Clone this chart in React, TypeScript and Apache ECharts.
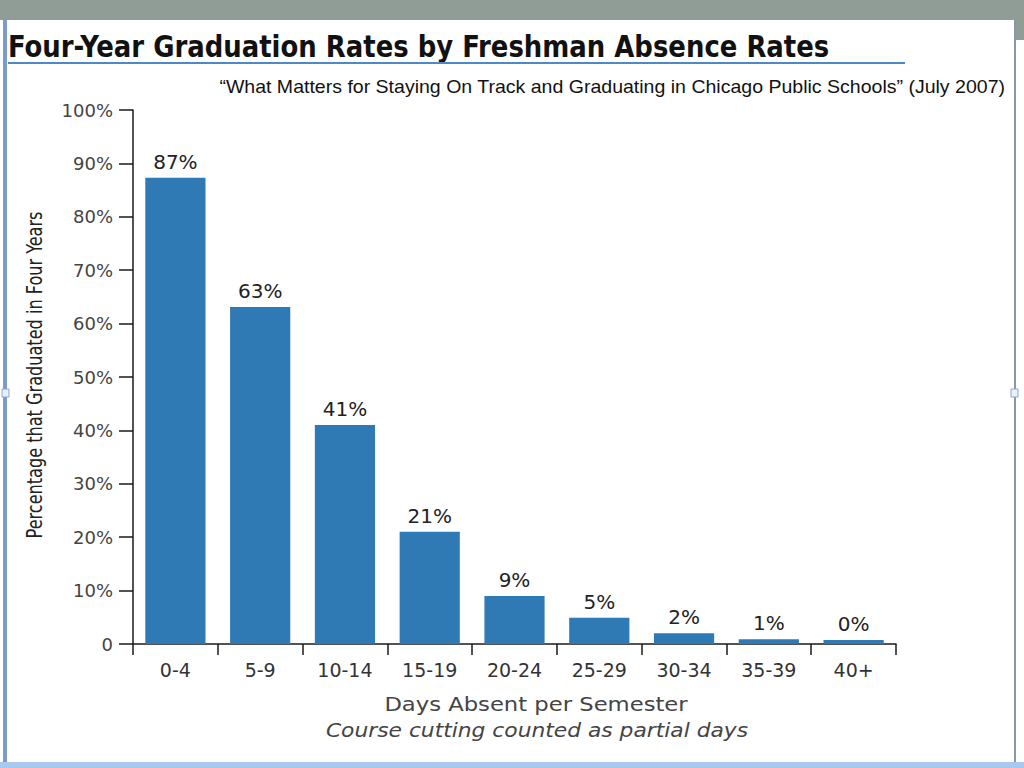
import React, { useEffect, useRef } from "react";
import * as echarts from "echarts";

const categories = ["0-4", "5-9", "10-14", "15-19", "20-24", "25-29", "30-34", "35-39", "40+"];
const values = [87.3, 63.1, 41.0, 21.0, 9.0, 4.9, 2.0, 0.9, 0.75];
const valueLabels = ["87%", "63%", "41%", "21%", "9%", "5%", "2%", "1%", "0%"];
const yTicks = [0, 10, 20, 30, 40, 50, 60, 70, 80, 90, 100];

const titleText = "Four-Year Graduation Rates by Freshman Absence Rates";
const subtitleText = "\u201cWhat Matters for Staying On Track and Graduating in Chicago Public Schools\u201d (July 2007)";
const xName = "Days Absent per Semester";
const xNote = "Course cutting counted as partial days";
const yName = "Percentage that Graduated in Four Years";

const SANS = "'DejaVu Sans', 'Liberation Sans', sans-serif";
const NARROW = "'Liberation Sans Narrow', 'DejaVu Sans Condensed', sans-serif";

export default function App() {
  const ref = useRef<HTMLDivElement>(null);
  useEffect(() => {
    if (!ref.current) return;
    const chart = echarts.init(ref.current, null, { renderer: "svg" });
    chart.setOption({
      animation: false,
      backgroundColor: "#ffffff",
      grid: { left: 133, right: 128, top: 110, bottom: 124, containLabel: false },
      xAxis: {
        type: "category",
        data: categories,
        axisLine: { show: true, lineStyle: { color: "#1a1a1a", width: 1.5 } },
        axisTick: { show: true, length: 11, lineStyle: { color: "#1a1a1a", width: 1.5 } },
        axisLabel: { color: "#333", fontFamily: SANS, fontSize: 19, margin: 16 },
      },
      yAxis: {
        type: "value",
        min: 0,
        max: 100,
        interval: 10,
        axisLine: { show: true, lineStyle: { color: "#1a1a1a", width: 1.5 } },
        axisTick: { show: true, length: 14, lineStyle: { color: "#1a1a1a", width: 1.5 } },
        splitLine: { show: false },
        axisLabel: {
          color: "#444",
          fontFamily: SANS,
          fontSize: 18,
          margin: 20,
          formatter: (v: number) => (yTicks.includes(v) ? (v === 0 ? "0" : v + "%") : ""),
        },
      },
      series: [
        {
          type: "bar",
          data: values,
          barCategoryGap: "29%",
          itemStyle: { color: "#2f7ab5" },
          label: {
            show: true,
            position: "top",
            distance: 6,
            color: "#222",
            fontFamily: SANS,
            fontSize: 20,
            formatter: (p: any) => valueLabels[p.dataIndex],
          },
        },
      ],
      graphic: [
        { type: "rect", shape: { x: 0, y: 0, width: 1024, height: 20 }, style: { fill: "#8f9d96" }, z: 100 },
        { type: "rect", shape: { x: 1016, y: 0, width: 8, height: 40 }, style: { fill: "#8f9d96" }, z: 100 },
        { type: "rect", shape: { x: 3, y: 20, width: 4, height: 748 }, style: { fill: "#7b9bcb" }, z: 100 },
        { type: "line", shape: { x1: 1015, y1: 20, x2: 1015, y2: 762 }, style: { stroke: "#5f7688", lineWidth: 1.5 }, z: 100 },
        { type: "rect", shape: { x: 0, y: 762, width: 1024, height: 6 }, style: { fill: "#a9c8ee" }, z: 100 },
        { type: "rect", shape: { x: 2, y: 389, width: 7, height: 8 }, style: { fill: "#e8f0fb", stroke: "#8aa6cc", lineWidth: 1 }, z: 101 },
        { type: "rect", shape: { x: 1011, y: 389, width: 7, height: 8 }, style: { fill: "#e8f0fb", stroke: "#8aa6cc", lineWidth: 1 }, z: 101 },
        {
          type: "text",
          x: 8,
          y: 46,
          scaleX: 0.93,
          style: { text: titleText, fill: "#111", font: "bold 31px " + NARROW, textVerticalAlign: "middle", textAlign: "left" },
          z: 100,
        },
        { type: "line", shape: { x1: 8, y1: 63, x2: 905, y2: 63 }, style: { stroke: "#4f88c6", lineWidth: 2 }, z: 100 },
        {
          type: "text",
          x: 1005,
          y: 87,
          scaleX: 1.086,
          style: { text: subtitleText, fill: "#111", font: "18px 'Liberation Sans', sans-serif", textVerticalAlign: "middle", textAlign: "right" },
          z: 100,
        },
        {
          type: "text",
          x: 34,
          y: 375,
          rotation: Math.PI / 2,
          scaleX: 0.815,
          style: { text: yName, fill: "#222", font: "22px " + NARROW, textVerticalAlign: "middle", textAlign: "center" },
          z: 100,
        },
        {
          type: "text",
          x: 536,
          y: 704,
          scaleX: 1.135,
          style: { text: xName, fill: "#444", font: "20px " + SANS, textVerticalAlign: "middle", textAlign: "center" },
          z: 100,
        },
        {
          type: "text",
          x: 537,
          y: 730,
          scaleX: 1.09,
          style: { text: xNote, fill: "#444", font: "italic 20px " + SANS, textVerticalAlign: "middle", textAlign: "center" },
          z: 100,
        },
      ],
    });
    return () => chart.dispose();
  }, []);
  return <div ref={ref} style={{ position: "fixed", left: 0, top: 0, width: 1024, height: 768 }} />;
}
